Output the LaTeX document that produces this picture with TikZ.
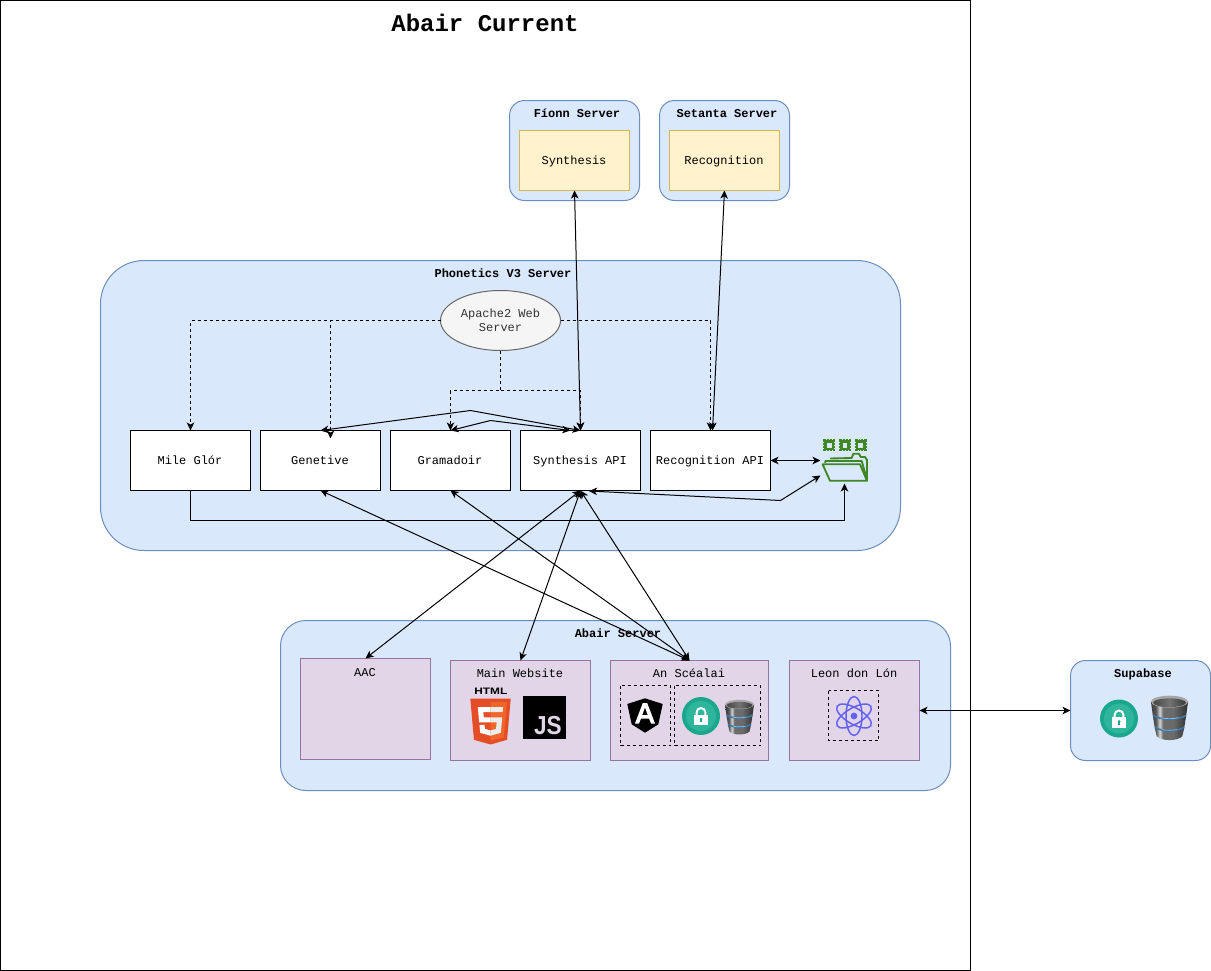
\documentclass[tikz,border=0pt]{standalone}
\usepackage{fontspec}
\setmainfont{Liberation Mono}
\newfontfamily\logofont{Liberation Sans}
\usetikzlibrary{arrows.meta,calc}
\definecolor{bluefill}{HTML}{DAE8FC}\definecolor{bluedraw}{HTML}{6C8EBF}
\definecolor{yelfill}{HTML}{FFF2CC}\definecolor{yeldraw}{HTML}{D6B656}
\definecolor{purfill}{HTML}{E1D5E7}\definecolor{purdraw}{HTML}{9673A6}
\definecolor{greyfill}{HTML}{F5F5F5}\definecolor{greydraw}{HTML}{666666}
\definecolor{teal1}{HTML}{1AA78D}\definecolor{teal2}{HTML}{2EB59B}
\definecolor{folderg}{HTML}{3F8624}\definecolor{atomc}{HTML}{6161F5}
\definecolor{bandd}{HTML}{3F78A8}\definecolor{bandl}{HTML}{86BDE8}
\pgfdeclarehorizontalshading{dbshade}{100bp}{
  color(0bp)=(black!78); color(25bp)=(black!78); color(32bp)=(black!65);
  color(37bp)=(black!15); color(41bp)=(black!58); color(55bp)=(black!58);
  color(75bp)=(black!82); color(100bp)=(black!82)}
\pgfdeclarehorizontalshading{dbtop}{100bp}{
  color(0bp)=(black!72); color(25bp)=(black!72); color(50bp)=(black!55);
  color(75bp)=(black!78); color(100bp)=(black!78)}
\tikzset{
  x=0.75pt,y=-0.75pt,
  every node/.style={font=\fontsize{9}{10.5}\selectfont,inner sep=0pt,outer sep=0pt},
  lw/.style={line width=0.75pt},
  lbl/.style={text height=8.5pt,text depth=1.8pt},
  boxlbl/.style={lbl,execute at begin node=\hspace*{-0.75pt}},
  tip/.style={-{Stealth[length=6pt,width=5.6pt,inset=1.6pt]},lw},
  both/.style={{Stealth[length=6pt,width=5.6pt,inset=1.6pt]}-{Stealth[length=6pt,width=5.6pt,inset=1.6pt]},lw},
  serverbox/.style={draw=bluedraw,fill=bluefill,lw},
  svcbox/.style={boxlbl,draw=yeldraw,fill=yelfill,lw,minimum width=82.5pt,minimum height=45pt},
  apibox/.style={boxlbl,draw=black,fill=white,lw,minimum width=90pt,minimum height=45pt},
  sitebox/.style={draw=purdraw,fill=purfill,lw},
  boxtitle/.style={lbl,font=\fontsize{9}{10.5}\selectfont\bfseries},
  dashbox/.style={draw=black,lw,dash pattern=on 2.25pt off 2.25pt},
  dashline/.style={tip,dash pattern=on 2.25pt off 2.25pt},
  lockpic/.pic={
    \fill[teal1] (0,0) circle (19);
    \fill[teal2] (0,0) circle (15);
    \draw[white,line width=1.5pt] (-4.4,0) -- (-4.4,-3.6) arc (180:360:4.4) -- (4.4,0);
    \fill[white] (-7,-1.2) rectangle (7,9);
    \fill[teal1] (0,3) circle (1.5);
    \fill[teal1] (-0.7,3) rectangle (0.7,6.3);
  },
  dbpic/.pic={
    \path[shading=dbshade]
      (-14.5,-12.5) -- (-13,-1.5) -- (-11.5,8) -- (-10,14.5) .. controls (-6,18.5) and (6,18.5) .. (10,14.5) -- (11.5,8) -- (13,-1.5) -- (14.5,-12.5) -- cycle;
    \fill[color=black!35] (0,-12.5) ellipse (14.5 and 4.7);
    \path[shading=dbtop] (0,-11.7) ellipse (12.8 and 3.4);
    \draw[color=bandd,line width=1.2pt] (-13,-1.8) .. controls (-7,2) and (7,2) .. (13,-1.8);
    \draw[color=bandl,line width=0.5pt] (-7,0) .. controls (-3,1) and (3,1) .. (7,0);
    \draw[color=bandd,line width=1.2pt] (-11.4,7.4) .. controls (-6,11.2) and (6,11.2) .. (11.4,7.4);
    \draw[color=bandl,line width=0.5pt] (-6,9.2) .. controls (-3,10) and (3,10) .. (6,9.2);
  },
  chippic/.pic={
    \fill[folderg] (-5.8,-5.8) rectangle (5.8,5.8);
    \fill[bluefill] (-2.4,-2.4) rectangle (2.4,2.4);
    \foreach \q in {-2.9,0,2.9}{
      \fill[bluefill] (\q-0.35,-6) rectangle (\q+0.35,-5.1);
      \fill[bluefill] (\q-0.35,5.1) rectangle (\q+0.35,6);
      \fill[bluefill] (-6,\q-0.35) rectangle (-5.1,\q+0.35);
      \fill[bluefill] (5.1,\q-0.35) rectangle (6,\q+0.35);
    }
  },
}
\begin{document}
\begin{tikzpicture}
\useasboundingbox (0,0) rectangle (1211,971);
\draw[black,lw] (0.5,0.5) rectangle (970.5,970.5);
\node[font=\fontsize{18}{20}\selectfont\bfseries] (title) at (485,23) {Abair Current};

% servers
\draw[serverbox,rounded corners=11.25pt] (509.5,100.5) rectangle (639.5,200.5);
\draw[serverbox,rounded corners=11.25pt] (659.5,100.5) rectangle (789.5,200.5);
\draw[serverbox,rounded corners=32.6pt] (100.5,260.5) rectangle (900.5,550.5);
\draw[serverbox,rounded corners=19pt] (280.5,620.5) rectangle (950.5,790.5);
\draw[serverbox,rounded corners=11.25pt] (1070.5,660.5) rectangle (1210.5,760.5);

\node[boxtitle] (fionnt) at (577,113.5) {Fíonn Server};
\node[boxtitle] (setat) at (727,113.5) {Setanta Server};
\node[boxtitle] (phont) at (503,273.5) {Phonetics V3 Server};
\node[boxtitle] (abairt) at (618,633.5) {Abair Server};
\node[boxtitle] (supat) at (1143,673.5) {Supabase};

\node[svcbox] (synth) at (574.5,160.5) {Synthesis};
\node[svcbox] (recog) at (724.5,160.5) {Recognition};

\draw[draw=greydraw,fill=greyfill,lw] (500.5,320.5) ellipse (60 and 30);
\node[minimum width=90pt,minimum height=45pt,align=center,text=black!80] (apache) at (500.5,320.5) {Apache2 Web\\Server};
\coordinate (apW) at (440.5,320.5);
\coordinate (apE) at (560.5,320.5);
\coordinate (apS) at (500.5,350.5);

\node[apibox] (mile) at (190.5,460.5) {Mile Glór};
\node[apibox] (gene) at (320.5,460.5) {Genetive};
\node[apibox] (gram) at (450.5,460.5) {Gramadoir};
\node[apibox] (sapi) at (580.5,460.5) {Synthesis API};
\node[apibox] (rapi) at (710.5,460.5) {Recognition API};

% sites
\draw[sitebox] (300.5,658.5) rectangle (430.5,759);
\draw[sitebox] (450.5,660.5) rectangle (590.5,760.5);
\draw[sitebox] (610.5,660.5) rectangle (768.5,760.5);
\draw[sitebox] (789.5,660.5) rectangle (919.5,760.5);
\node[lbl] (aact) at (365,672.5) {AAC};
\node[lbl] (maint) at (520,673.5) {Main Website};
\node[lbl] (scealt) at (689,673.5) {An Scéalai};
\node[lbl] (leont) at (854,673.5) {Leon don Lón};
\coordinate (aacN) at (365.5,658.5);
\coordinate (mainN) at (520.5,660.5);
\coordinate (scealN) at (689.5,660.5);
\coordinate (leonE) at (919.5,710.5);
\coordinate (supaW) at (1070.5,710.5);

\draw[dashbox] (620.5,685.5) rectangle (670.5,745.5);
\draw[dashbox] (674.5,685.5) rectangle (760.5,745.5);
\draw[dashbox] (828.5,690.5) rectangle (878.5,740.5);

% HTML5 logo
\node[font=\logofont\fontsize{7}{7}\selectfont\bfseries,text=black] (htmlt) at (490.8,691.4) {\scalebox{1.27}[1]{HTML}};
\begin{scope}[shift={(470.3,698.7)},scale=0.0894,shift={(-30,0)}]
  \fill[color={rgb,255:red,228;green,77;blue,38}] (71,460) -- (30,0) -- (482,0) -- (441,460) -- (256,512) -- cycle;
  \fill[color={rgb,255:red,241;green,101;blue,41}] (256,472) -- (405,431) -- (440,37) -- (256,37) -- cycle;
  \fill[white] (256,208) -- (181,208) -- (176,150) -- (256,150) -- (256,94) -- (114,94) -- (129,265) -- (256,265) -- cycle;
  \fill[white] (256,355) -- (193,338) -- (189,293) -- (133,293) -- (141,382) -- (256,414) -- cycle;
  \fill[black!8] (256,208) -- (256,265) -- (325,265) -- (318,338) -- (256,355) -- (256,414) -- (371,382) -- (387,208) -- cycle;
  \fill[black!8] (256,94) -- (256,150) -- (392,150) -- (397,94) -- cycle;
\end{scope}
% JS logo
\fill[black] (523,696) rectangle (566,739);
\node[font=\logofont\fontsize{19.5}{19.5}\selectfont\bfseries,text=purfill,anchor=base east] (jst) at (561.7,734.7) {\scalebox{0.87}[1]{JS}};
% Angular logo
\fill[black] (645,698.3) -- (662.7,704) -- (658.3,724.3) -- (645,732.7) -- (631.7,724.3) -- (627.3,704) -- cycle;
\fill[white,even odd rule] (642.8,703) -- (647.2,703) -- (655,723.5) -- (651,723.5) -- (649,718.5) -- (641,718.5) -- (639,723.5) -- (635,723.5) -- cycle
  (645,707.5) -- (647.8,715) -- (642.2,715) -- cycle;
% locks and databases
\pic at (701,716) {lockpic};
\pic at (739.5,717) {dbpic};
\pic at (1119,718.5) {lockpic};
\pic[scale=1.28] at (1169.5,717.7) {dbpic};
% atom
\begin{scope}[shift={(854,716)},draw=atomc,line width=1.1pt]
  \fill[atomc] (0,0) circle (3.4);
  \draw[rotate=90] (0,0) ellipse (19.5 and 8);
  \draw[rotate=30] (0,0) ellipse (19.5 and 8);
  \draw[rotate=-30] (0,0) ellipse (19.5 and 8);
\end{scope}
% folder
\pic at (829.2,445.2) {chippic};
\pic at (845,445.2) {chippic};
\pic at (860.8,445.2) {chippic};
\begin{scope}[draw=folderg,line width=1.4pt,line join=round]
  \draw (830,458.5) -- (851.7,458) -- (853.3,453.8) -- (859,453.8) -- (860.7,457) -- (865,457) -- (867,460) -- (867,480.6);
  \draw (825.2,463) -- (825.2,461) -- (861.7,461) -- (866.5,478);
  \draw (822.6,464.3) -- (860,464.3) -- (867,480.8) -- (830,480.8) -- cycle;
\end{scope}
\coordinate (foldW) at (820.5,460.5);
\coordinate (foldL) at (820.5,475.5);
\coordinate (foldS) at (844.5,483.5);

% connectors
\coordinate (rapiN2) at (712.5,430.5);
\draw[both] (synth.south) -- (sapi.north);
\draw[both] (recog.south) -- (rapiN2);
\coordinate (geneIn) at (330.5,438.5);
\draw[dashline] (apW) -| (mile.north);
\draw[dashline] (apW) -| (geneIn);
\draw[dashline] (apE) -| (rapi.north);
\coordinate (dropL) at (500.5,390.5);
\draw[dashline] (apS) -- (dropL) -| (gram.north);
\draw[dashline] (dropL) -| (sapi.north);
\coordinate (viaA) at (470.5,410.5);
\coordinate (viaB) at (490.5,420.5);
\coordinate (sapiN1) at (570.5,430.5);
\draw[both] (gene.north) -- (viaA) -- (sapi.north);
\draw[both] (gram.north) -- (viaB) -- (sapiN1);
\draw[both] (rapi.east) -- (foldW);
\coordinate (sapiS2) at (589,491);
\coordinate (viaC) at (780.5,500.5);
\draw[both] (sapiS2) -- (viaC) -- (foldL);
\coordinate (viaD) at (190.5,520.5);
\coordinate (viaE) at (844.5,520.5);
\draw[tip] (mile.south) -- (viaD) -- (viaE) -- (foldS);
\draw[both] (sapi.south) -- (aacN);
\draw[both] (sapi.south) -- (mainN);
\draw[both] (sapi.south) -- (scealN);
\draw[both] (gene.south) -- (scealN);
\draw[both] (gram.south) -- (scealN);
\draw[both] (leonE) -- (supaW);
\end{tikzpicture}
\end{document}
